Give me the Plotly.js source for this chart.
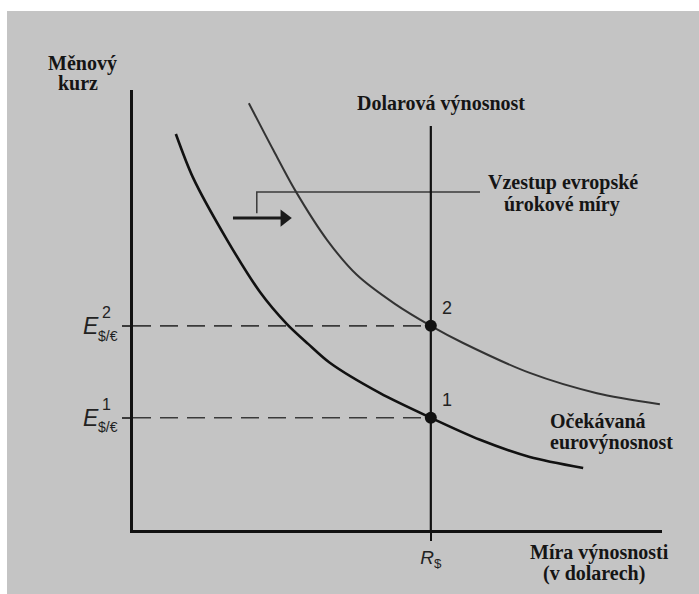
<!DOCTYPE html>
<html>
<head>
<meta charset="utf-8">
<script src="https://cdn.plot.ly/plotly-3.0.1.min.js"></script>
<style>html,body{margin:0;padding:0;background:#fff;}#chart{width:699px;height:594px;}</style>
</head>
<body>
<div id="chart"></div>
<script>
// Data (abstract units: both axes 0..10)
const xRange = [0, 10];
const yRange = [0, 10];
const rDollar = 5.63;              // dollar return R$
const eLevels = [2.55, 4.64];      // E^1, E^2 exchange rates
const pointLabels = ['1', '2'];
const supLabels = ['1', '2'];
const yTop = 9.18;                 // top of the dollar-return line

// Expected euro return, original curve
const curve1X = [0.81, 1.13, 1.78, 2.40, 2.91, 3.31, 3.72, 4.67, 5.63, 6.56, 7.50, 8.51];
const curve1Y = [9.00, 8.02, 6.59, 5.41, 4.68, 4.23, 3.80, 3.11, 2.55, 2.05, 1.66, 1.41];

// Expected euro return after rise of European interest rate
const curve2X = [2.19, 2.65, 3.06, 3.67, 4.23, 4.95, 5.63, 6.24, 7.50, 8.77, 9.96];
const curve2Y = [9.70, 8.64, 7.73, 6.59, 5.80, 5.14, 4.64, 4.25, 3.57, 3.11, 2.86];

// Bracket (label leader) and shift arrow
const bracketX = [6.56, 2.34, 2.34];
const bracketY = [7.68, 7.68, 7.20];
const arrowX = [1.89, 2.80];
const arrowHeadX = 2.86;
const arrowY = 7.09;

const serif = 'Liberation Serif, Times New Roman, serif';
const sans = 'Liberation Sans, Arial, sans-serif';
const txt = '#151515';

const traces = [];
eLevels.forEach(e => {
  traces.push({x: [0, rDollar], y: [e, e], mode: 'lines', hoverinfo: 'skip',
    line: {color: '#3a3a3a', width: 1.6, dash: '18px,9px'}, showlegend: false});
});
traces.push({x: bracketX, y: bracketY, mode: 'lines', hoverinfo: 'skip',
  line: {color: '#3a3a3a', width: 1.5}, showlegend: false});
traces.push({x: arrowX, y: [arrowY, arrowY], mode: 'lines',
  line: {color: '#1a1a1a', width: 3}, showlegend: false});
traces.push({x: [arrowHeadX], y: [arrowY], mode: 'markers',
  marker: {symbol: 'triangle-right', size: 15, color: '#1a1a1a'}, showlegend: false});
traces.push({x: [rDollar, rDollar], y: [0, yTop], mode: 'lines',
  line: {color: '#111', width: 2.2}, showlegend: false});
traces.push({x: curve2X, y: curve2Y, mode: 'lines', line: {color: '#333', width: 2, shape: 'spline', smoothing: 0.8}, showlegend: false});
traces.push({x: curve1X, y: curve1Y, mode: 'lines', line: {color: '#111', width: 2.6, shape: 'spline', smoothing: 0.8}, showlegend: false});
traces.push({x: [rDollar, rDollar], y: eLevels, mode: 'markers',
  marker: {color: '#111', size: 12}, showlegend: false});

// annotations placed in axis units, converted to paper fractions so they may sit outside the axes
const px = v => (v - xRange[0]) / (xRange[1] - xRange[0]);
const py = v => (v - yRange[0]) / (yRange[1] - yRange[0]);
const ann = [];
function t(x, y, text, size, opts) {
  ann.push(Object.assign({x: px(x), y: py(y), xref: 'paper', yref: 'paper', text: text, showarrow: false,
    font: {family: serif, size: size, color: txt}, xanchor: 'center', yanchor: 'middle'}, opts || {}));
}
t(-0.96, 10.61, '<b>Měnový</b>', 20);
t(-1.04, 10.16, '<b>kurz</b>', 20);
t(5.82, 9.70, '<b>Dolarová výnosnost</b>', 20);
t(8.13, 7.89, '<b>Vzestup evropské</b>', 20);
t(8.11, 7.39, '<b>úrokové míry</b>', 20);
t(7.84, 2.48, '<b>Očekávaná</b>', 20, {xanchor: 'left'});
t(7.84, 2.00, '<b>eurovýnosnost</b>', 20, {xanchor: 'left'});
t(8.81, -0.50, '<b>Míra výnosnosti</b>', 20);
t(8.71, -0.98, '<b>(v dolarech)</b>', 20);

eLevels.forEach((e, i) => {
  t(rDollar + 0.30, e + 0.40, pointLabels[i], 18, {font: {family: sans, size: 18, color: '#222'}});
  t(-0.80, e, '<i>E</i>', 23, {font: {family: sans, size: 23, color: '#222'}});
  t(-0.51, e + 0.30, supLabels[i], 16, {font: {family: sans, size: 16, color: '#222'}});
  t(-0.48, e - 0.22, '$/€', 14, {font: {family: sans, size: 14, color: '#222'}});
});

const layout = {
  width: 699, height: 594,
  margin: {l: 133, r: 37, t: 90, b: 64, pad: 0},
  paper_bgcolor: '#ffffff',
  plot_bgcolor: 'rgba(0,0,0,0)',
  showlegend: false,
  xaxis: {range: xRange, showgrid: false, zeroline: false, showline: true, linewidth: 2.8,
    linecolor: '#111', tickvals: [rDollar], ticktext: ['<i>R</i><sub>$</sub>'], ticks: 'outside',
    ticklen: 8, tickwidth: 2, tickcolor: '#111', tickfont: {family: sans, size: 19, color: '#222'},
    fixedrange: true},
  yaxis: {range: yRange, showgrid: false, zeroline: false, showline: true, linewidth: 2.8,
    linecolor: '#111', tickvals: eLevels, ticks: 'outside', ticklen: 8, tickwidth: 1.6,
    tickcolor: '#3a3a3a', showticklabels: false, fixedrange: true},
  shapes: [{type: 'rect', xref: 'paper', yref: 'paper', x0: -0.2382, x1: 1.1, y0: -0.2, y1: 1.1795,
    fillcolor: '#c4c4c4', line: {width: 0}, layer: 'below'}],
  annotations: ann
};

Plotly.newPlot('chart', traces, layout, {displayModeBar: false, staticPlot: true});
</script>
</body>
</html>
